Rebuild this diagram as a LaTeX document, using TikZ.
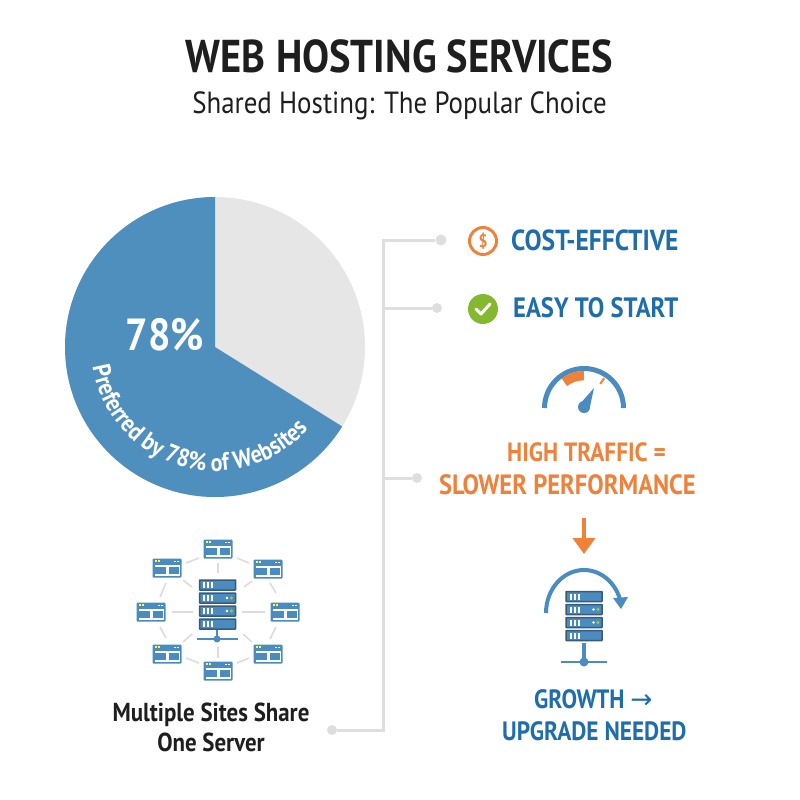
\documentclass[tikz,border=0pt]{standalone}
\usepackage{fontspec}
\setmainfont{PT Sans}[FakeStretch=0.88]
\newfontfamily\arrowfont{DejaVu Sans}
\usetikzlibrary{arrows.meta,calc,decorations.text}
\definecolor{pieBlue}{HTML}{4F8FBE}
\definecolor{pieGray}{HTML}{E6E6E6}
\definecolor{inkDark}{HTML}{1E1E1E}
\definecolor{headBlue}{HTML}{1F6DAA}
\definecolor{iconBlue}{HTML}{4A8BC0}
\definecolor{rackEdge}{HTML}{3A5A78}
\definecolor{hotOrange}{HTML}{F0813A}
\definecolor{okGreen}{HTML}{84B82F}
\definecolor{treeGray}{HTML}{DEDEDE}
\definecolor{spokeGray}{HTML}{DCDCDC}
\tikzset{
    titletext/.style={inner sep=0pt,text=inkDark,font=\fontsize{46}{46}\selectfont\bfseries},
    subtext/.style={inner sep=0pt,text=inkDark,font=\fontsize{30.6}{32}\selectfont},
    bluetext/.style={inner sep=0pt,anchor=west,text=headBlue,font=\fontsize{#1}{30}\selectfont\bfseries},
    orangetext/.style={inner sep=0pt,anchor=west,text=hotOrange,font=\fontsize{#1}{30}\selectfont\bfseries},
    darktext/.style={inner sep=0pt,text=inkDark,font=\fontsize{26}{27}\selectfont\bfseries},
    treeline/.style={treeGray,line width=3pt},
    treedot/.style={circle,fill=treeGray,inner sep=0pt,minimum size=10pt},
    spoke/.style={spokeGray,line width=1.6pt},
    webwin/.pic={
        \fill[iconBlue,rounded corners=1pt] (-14.5,-9.5) rectangle (14.5,9.5);
        \fill[white] (-12.5,-3.5) rectangle (12.5,7.5);
        \fill[iconBlue] (-12,-1.5) rectangle (-1,5.5);
        \fill[iconBlue] (1.5,-1.5) rectangle (12,5.5);
        \fill[yellow!70!white] (-12,-7.6) rectangle (-10,-5.6);
        \fill[yellow!70!white] (-9,-7.6) rectangle (-7,-5.6);
        \fill[white] (7,-7.4) rectangle (9,-5.8);
        \fill[white] (10,-7.4) rectangle (12,-5.8);
    },
    serverrack/.pic={
        \foreach \i in {0,1,2,3}{
            \draw[rackEdge,fill=iconBlue,line width=1.5pt,rounded corners=0.5pt]
                (-18,{\i*13-25}) rectangle (18,{\i*13-15});
            \foreach \k in {-13.5,-9.5,-5.5}
                \fill[white] (\k-1,{\i*13-23}) rectangle (\k+1,{\i*13-17});
        }
        \foreach \i in {1,2}{
            \fill[white] (9.5,{\i*13-20}) circle (1.3);
            \fill[okGreen!70!yellow] (14,{\i*13-20}) circle (1.6);
        }
    }
}
\begin{document}
\begin{tikzpicture}[x=1pt,y=-1pt]
    \useasboundingbox (0,0) rectangle (800,800);

    \node[titletext] (title) at (399.5,56) {WEB HOSTING SERVICES};
    \node[subtext] (subtitle) at (399.5,106) {Shared Hosting: The Popular Choice};

    % Pie, gray part first
    \fill[pieGray] (215,347) circle (150);
    \fill[pieBlue] (215,347) -- (215,197) arc[start angle=-90, end angle=-328, radius=150] -- cycle;
    \node[inner sep=0pt,text=white,font=\fontsize{45}{46}\selectfont\bfseries] (share) at (165,335) {78\%};
    \begin{scope}[y=1pt]
        \path[postaction={decorate,decoration={text along path,text align=center,
            text={|\fontsize{25}{25}\selectfont\bfseries\color{white}|Preferred by 78{\%} of Websites}}}]
            (215,-347) ++(187:124) arc[start angle=187, end angle=321, radius=124];
    \end{scope}

    % Tree on the right
    \coordinate (treetop) at (383,240);
    \coordinate (treemid) at (383,308);
    \coordinate (treelow) at (383,478);
    \coordinate (treeend) at (383,730);
    \node[treedot,minimum size=11pt] (dotcost) at (441,240) {};
    \node[treedot] (doteasy) at (437,308) {};
    \node[treedot] (dottraffic) at (417,478) {};
    \node[treedot] (dotsites) at (332,730) {};
    \draw[treeline] (dotcost) -- (treetop) -- (treeend) -- (dotsites);
    \draw[treeline] (treemid) -- (doteasy);
    \draw[treeline] (treelow) -- (dottraffic);

    % Right column
    \node[circle,draw=hotOrange,line width=3pt,minimum size=27pt,inner sep=0pt,text=hotOrange,
        font=\fontsize{18}{18}\selectfont\bfseries] (dollar) at (483,241) {\$};
    \node[bluetext=29] (cost) at (511,240) {COST-EFFCTIVE};
    \node[circle,fill=okGreen,minimum size=30pt,inner sep=0pt] (tick) at (483,309) {};
    \draw[white,line width=3pt,line cap=round,line join=round] (476,309) -- (481,314) -- (490,304);
    \node[bluetext=28] (easy) at (513,308) {EASY TO START};

    % Gauge
    \draw[iconBlue,line width=5pt] (544.5,408) arc[start angle=180, end angle=360, radius=39.5];
    \fill[hotOrange] (584,371) arc[start angle=-90, end angle=-127, radius=37] -- (567,386)
        arc[start angle=-127, end angle=-90, radius=28] -- cycle;
    \draw[hotOrange,line width=2pt] ($(584,408)+(-56:29)$) -- ($(584,408)+(-56:36)$);
    \fill[iconBlue] (584,407) circle (6);
    \fill[iconBlue] (579,405) -- (594,388) -- (589.5,409) -- cycle;

    \node[orangetext=26.4] (traffic) at (507,452) {HIGH TRAFFIC =};
    \node[orangetext=27.9] (slower) at (439,485) {SLOWER PERFORMANCE};
    \coordinate (arrowtop) at (584,518);
    \coordinate (arrowtip) at (584,554);
    \draw[hotOrange,line width=4pt,-{Triangle[length=16pt,width=22pt]}] (arrowtop) -- (arrowtip);

    % Rack with upgrade arrow
    \pic at (584,616.5) {serverrack};
    \draw[iconBlue,line width=4pt] (584,643) -- (584,662);
    \draw[iconBlue,line width=2.5pt] (561,662) -- (607,662);
    \fill[iconBlue] (584,662) circle (4.5);
    \draw[iconBlue,line width=4pt] (546,613) arc[start angle=180, end angle=350, x radius=38, y radius=43];
    \fill[iconBlue] (613,598) -- (628,597) -- (621,609) -- cycle;

    \node[bluetext=26.5] (growth) at (534,699) {GROWTH {\arrowfont\mdseries →}};
    \node[bluetext=26.5] (upgrade) at (502,731) {UPGRADE NEEDED};

    % Shared server
    \foreach \wx/\wy in {218/549,268/569,285/612,268/654,218/671,167/654,151/612,167/568}
        \pic at (\wx,\wy) {webwin};
    \foreach \ax/\ay/\bx/\by in {218/563/218/573,172/612/193/612,242/612/265/612,218/647/218/658,
        183/580/192/587,252/581/244/587,183/642/192/634,252/642/243/634,
        186/563/199/558,237/558/249/563,276/593/270/583,276/627/270/639,
        249/658/237/663,199/663/186/658,160/627/166/638,166/583/160/597}
        \draw[spoke] (\ax,\ay) -- (\bx,\by);
    \pic at (217.5,605) {serverrack};
    \draw[iconBlue,line width=2.5pt] (197,639) -- (238,639);
    \draw[iconBlue,line width=2.5pt] (217,630) -- (217,639);
    \fill[iconBlue] (217,639) circle (3.5);

    \node[darktext] (multi) at (211,715) {Multiple Sites Share};
    \node[darktext] (oneserver) at (211,742) {One Server};
\end{tikzpicture}
\end{document}
